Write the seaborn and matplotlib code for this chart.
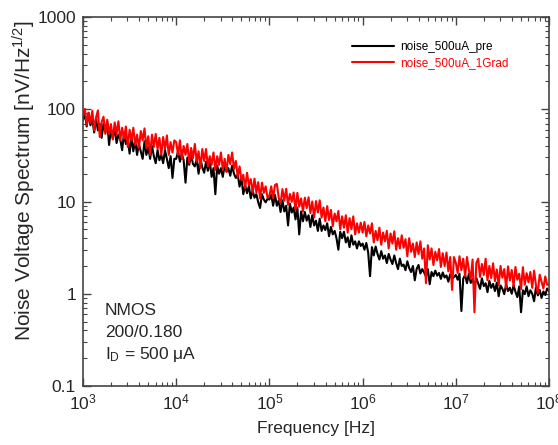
import matplotlib
matplotlib.use("Agg")
import matplotlib.pyplot as plt
import matplotlib.ticker as mticker
import seaborn as sns
import pandas as pd

# analyser grid: 50 points per decade, 1 kHz .. 100 MHz
decade_start_hz = [1e3, 1e4, 1e5, 1e6, 1e7]
mantissas = [
    1.000, 1.047, 1.096, 1.148, 1.202, 1.259, 1.318, 1.380, 1.445, 1.514,
    1.585, 1.660, 1.738, 1.820, 1.905, 1.995, 2.089, 2.188, 2.291, 2.399,
    2.512, 2.630, 2.754, 2.884, 3.020, 3.162, 3.311, 3.467, 3.631, 3.802,
    3.981, 4.169, 4.365, 4.571, 4.786, 5.012, 5.248, 5.495, 5.754, 6.026,
    6.310, 6.607, 6.918, 7.244, 7.586, 7.943, 8.318, 8.710, 9.120, 9.550,
]
last_freq_hz = 1e8

# noise_500uA_pre [nV/sqrt(Hz)]
noise_pre = [
    # 1 kHz .. 10 kHz
    76, 91, 65, 91, 67, 79, 56, 79, 59, 69,
    49, 70, 56, 73, 41, 61, 48, 64, 43, 53,
    47, 36, 55, 42, 48, 33, 50, 35, 46, 32,
    42, 35, 29, 45, 32, 39, 29, 40, 31, 26,
    36, 28, 32, 26, 36, 29, 23, 31, 18, 29,
    # 10 kHz .. 100 kHz
    29, 35, 27, 33, 28, 16, 30, 25, 32, 25.5,
    24, 29, 20, 29, 23.5, 20.5, 27, 21.5, 27.5, 18.5,
    23, 12, 24.5, 20, 23, 18.5, 25, 21, 23, 19,
    24.5, 20, 18, 19.5, 14.5, 18, 12, 15, 12.3, 14.7,
    10.8, 13.2, 11, 12, 9.8, 8.5, 12, 10.5, 9.8, 10.7,
    # 100 kHz .. 1 MHz
    10.5, 11.9, 9, 11.8, 9, 10.3, 7.7, 10.3, 7.8, 9,
    5.5, 9.5, 7.6, 8.6, 6.4, 8.6, 4.4, 7.8, 6.1, 7.7,
    6.2, 7.1, 5.3, 7.1, 5.5, 6.2, 4.8, 6.5, 4.8, 5.5,
    4.9, 5.8, 4.2, 5.3, 4.4, 4.8, 4.0, 3.0, 4.7, 4.0,
    4.7, 3.6, 4.1, 3.2, 4.3, 3.4, 3.7, 3.1, 3.7, 3.3,
    # 1 MHz .. 10 MHz
    3.5, 3.0, 3.55, 2.8, 1.55, 3.2, 2.6, 3.25, 2.7, 2.35,
    2.9, 2.4, 2.6, 2.15, 2.7, 2.35, 2.1, 2.6, 2.15, 1.85,
    2.4, 2.0, 2.07, 1.8, 2.25, 1.9, 1.72, 2.0, 1.4, 1.86,
    2.05, 1.66, 1.85, 1.7, 1.54, 1.85, 1.27, 1.72, 1.55, 1.78,
    1.57, 1.68, 1.45, 1.7, 1.5, 1.58, 1.35, 1.63, 1.45, 1.52,
    # 10 MHz .. 100 MHz
    1.6, 1.42, 1.65, 0.65, 1.46, 1.6, 1.3, 1.64, 1.31, 1.44,
    1.2, 1.48, 1.29, 1.13, 1.47, 1.21, 1.3, 1.04, 1.38, 1.16,
    1.28, 1.07, 1.32, 0.94, 1.23, 1.13, 0.99, 1.27, 1.07, 1.16,
    1.0, 1.24, 1.05, 0.92, 1.2, 0.63, 1.09, 0.99, 1.2, 0.94,
    1.09, 1.0, 0.83, 1.17, 0.96, 1.1, 0.9, 1.06, 0.97, 1.14,
    1.07,
]

# noise_500uA_1Grad [nV/sqrt(Hz)]
noise_1grad = [
    # 1 kHz .. 10 kHz
    86, 101, 67, 92, 71, 96, 59, 81, 97, 50,
    73, 83, 54, 77, 54, 69, 47, 72, 54, 74,
    46, 63, 48, 65, 39, 60, 46, 63, 41, 53,
    38, 58, 46, 62, 38, 51, 32, 53, 39, 54,
    37, 49, 32, 50, 37, 52, 32, 44, 34, 46,
    # 10 kHz .. 100 kHz
    44, 32, 46, 29, 40, 32, 42, 26, 38, 29.5,
    42, 27, 35, 23, 37, 27.5, 37, 24, 31, 25,
    34, 22, 31, 25, 34, 22, 29, 21, 32, 25.5,
    34, 22.5, 27.5, 18.5, 24, 17, 19.5, 14, 20.5, 15,
    17.5, 12.5, 17.7, 12.5, 16.2, 10.8, 16, 12.4, 14.6, 11,
    # 100 kHz .. 1 MHz
    11.6, 14.6, 10.9, 15.1, 15.5, 11, 9.6, 13.6, 10.2, 13.7,
    9.2, 12.1, 9.9, 12.5, 8.1, 12.4, 8.8, 10.8, 7.8, 11,
    8.5, 11.1, 7.5, 10, 6.7, 10.1, 7.6, 10.3, 6.7, 8.6,
    6.1, 8.9, 6.3, 8.1, 5.4, 7.4, 6.1, 7.9, 5.0, 6.9,
    5.2, 7.1, 4.6, 6.6, 5.0, 6.9, 4.4, 5.8, 4.6, 5.9,
    # 1 MHz .. 10 MHz
    4.6, 6.0, 4.2, 5.5, 4.5, 5.8, 3.6, 4.8, 3.8, 5.2,
    3.4, 4.6, 3.7, 4.8, 3.1, 4.5, 3.5, 4.75, 3.0, 4.0,
    3.1, 4.3, 3.15, 3.9, 2.55, 4.0, 2.85, 3.5, 2.5, 3.6,
    2.7, 3.7, 2.4, 3.1, 1.3, 3.35, 2.35, 3.1, 2.05, 2.85,
    2.3, 3.05, 1.95, 2.75, 2.0, 2.8, 1.75, 2.5, 1.1, 2.5,
    # 10 MHz .. 100 MHz
    2.17, 1.68, 2.55, 1.8, 2.4, 1.55, 2.5, 1.82, 1.44, 2.35,
    0.63, 2.15, 2.4, 1.52, 2.1, 1.6, 2.4, 1.4, 2.0, 1.48,
    2.14, 1.37, 1.83, 1.24, 2.0, 1.49, 1.85, 1.16, 1.98, 1.39,
    1.81, 1.21, 1.95, 1.42, 1.65, 1.12, 1.94, 1.25, 1.67, 1.33,
    1.72, 1.16, 1.78, 1.24, 1.02, 1.61, 1.36, 1.14, 1.54, 1.25,
    1.27,
]

series_names = ["noise_500uA_pre", "noise_500uA_1Grad"]
series_colors = ["black", "red"]

freq_hz = [m * d for d in decade_start_hz for m in mantissas] + [last_freq_hz]

sns.set_theme(style="ticks")
plt.rcParams["font.family"] = ["Liberation Sans", "DejaVu Sans"]
plt.rcParams["mathtext.default"] = "regular"

data = pd.concat(
    [
        pd.DataFrame({"Frequency": freq_hz, "Noise": noise_pre, "Series": series_names[0]}),
        pd.DataFrame({"Frequency": freq_hz, "Noise": noise_1grad, "Series": series_names[1]}),
    ],
    ignore_index=True,
)

fig = plt.figure(figsize=(5.58, 4.45), dpi=100)
ax = fig.add_axes([83 / 558, 59 / 445, 466 / 558, 369 / 445])

sns.lineplot(
    data=data, x="Frequency", y="Noise", hue="Series",
    palette=dict(zip(series_names, series_colors)),
    estimator=None, sort=False, linewidth=1.5, ax=ax,
)

ax.set_xscale("log")
ax.set_yscale("log")
ax.set_xlim(1e3, 1e8)
ax.set_ylim(0.1, 1000)

ax.yaxis.set_major_formatter(mticker.FuncFormatter(lambda v, p: f"{v:g}"))
ax.xaxis.set_major_locator(mticker.LogLocator(base=10, numticks=10))
ax.xaxis.set_minor_locator(mticker.LogLocator(base=10, subs=range(2, 10), numticks=20))
ax.yaxis.set_minor_locator(mticker.LogLocator(base=10, subs=range(2, 10), numticks=20))
ax.xaxis.set_minor_formatter(mticker.NullFormatter())
ax.yaxis.set_minor_formatter(mticker.NullFormatter())

ax.tick_params(which="both", direction="in", top=True, right=True, color="#444444")
ax.tick_params(which="major", length=6, width=1.0, labelsize=12.5, pad=5)
ax.tick_params(which="minor", length=3, width=0.8)
for s in ax.spines.values():
    s.set_color("#444444")
    s.set_linewidth(1.2)

ax.set_xlabel("Frequency [Hz]", fontsize=12.5, labelpad=6)
ax.set_ylabel("Noise Voltage Spectrum [nV/Hz$^{1/2}$]", fontsize=15)
ax.yaxis.set_label_coords(-0.097, 0.556)

ax.legend(
    loc="upper left", bbox_to_anchor=(0.577, 0.935), frameon=False,
    fontsize=8.5, handlelength=3.6, handletextpad=0.5, labelspacing=0.35,
    borderpad=0, borderaxespad=0, labelcolor="linecolor",
)

ax.text(0.047, 0.192, "NMOS", transform=ax.transAxes, fontsize=12.5)
ax.text(0.047, 0.132, "200/0.180", transform=ax.transAxes, fontsize=12.5)
ax.text(0.047, 0.072, "I$_D$ = 500 μA", transform=ax.transAxes, fontsize=12.5)

fig.savefig("out.png", dpi=100)
